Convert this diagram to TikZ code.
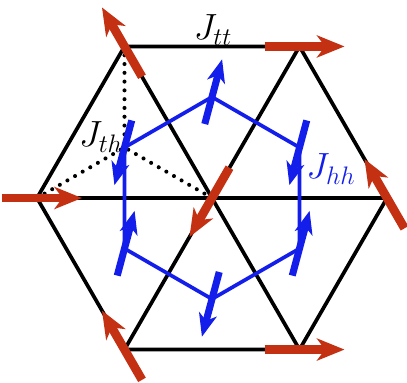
\documentclass[tikz,border=0pt]{standalone}
\usepackage{amsmath}
\usepackage{tikz}
\usetikzlibrary{arrows.meta}
\definecolor{spinred}{RGB}{196,48,18}
\definecolor{spinblue}{RGB}{20,30,235}
\newcommand{\latt}{3.5}

\begin{document}
\begin{tikzpicture}
\tikzstyle{bond}=[line width=2.1pt,black,line join=round]
\tikzstyle{hexbond}=[line width=2.1pt,spinblue,line join=round]
\tikzstyle{thbond}=[line width=2.3pt,dash pattern=on 0pt off 5pt,line cap=round]
\tikzstyle{tspin}=[line width=5pt,spinred,arrows={-Stealth[length=0.55cm,width=0.44cm,inset=0.16cm]}]
\tikzstyle{hspin}=[line width=4pt,spinblue,arrows={-Stealth[length=0.46cm,width=0.36cm,inset=0.13cm]}]
\useasboundingbox (-4.24,-3.68) rectangle (3.9,3.96);
% triangle sites and hexagon centres
\coordinate (s0) at (0,0);
\foreach \k in {1,...,6}
  \coordinate (s\k) at ({60*(\k-1)}:\latt);
\foreach \k in {1,...,6}
  \coordinate (h\k) at ({60*\k-30}:{\latt/sqrt(3)});
% lattice
\draw[bond] (s1) -- (s2) -- (s3) -- (s4) -- (s5) -- (s6) -- cycle;
\draw[bond] (s1) -- (s4);
\draw[bond] (s2) -- (s5);
\draw[bond] (s3) -- (s6);
\draw[thbond] (s3) -- (h3);
\draw[thbond] (s4) -- (h3);
\draw[thbond] (s0) -- (h3);
\draw[hexbond] (h1) -- (h2) -- (h3) -- (h4) -- (h5) -- (h6) -- cycle;
% couplings
\node[font=\huge] (jtt) at (0.02,3.36) {$J_{tt}$};
\node[font=\huge] (jth) at (-2.22,1.22) {$J_{th}$};
\node[font=\huge,text=spinblue] (jhh) at (2.38,0.58) {$J_{hh}$};
% spins
\foreach \s/\ang in {s1/120,s2/0,s3/120,s4/0,s5/120,s6/0,s0/240}
  \draw[tspin] (\s) ++(\ang:-0.7) -- ++(\ang:1.6);
\foreach \h/\ang in {h1/255,h2/75,h3/255,h4/75,h5/255,h6/75}
  \draw[hspin] (\h) ++(\ang:-0.56) -- ++(\ang:1.34);
\end{tikzpicture}
\end{document}
